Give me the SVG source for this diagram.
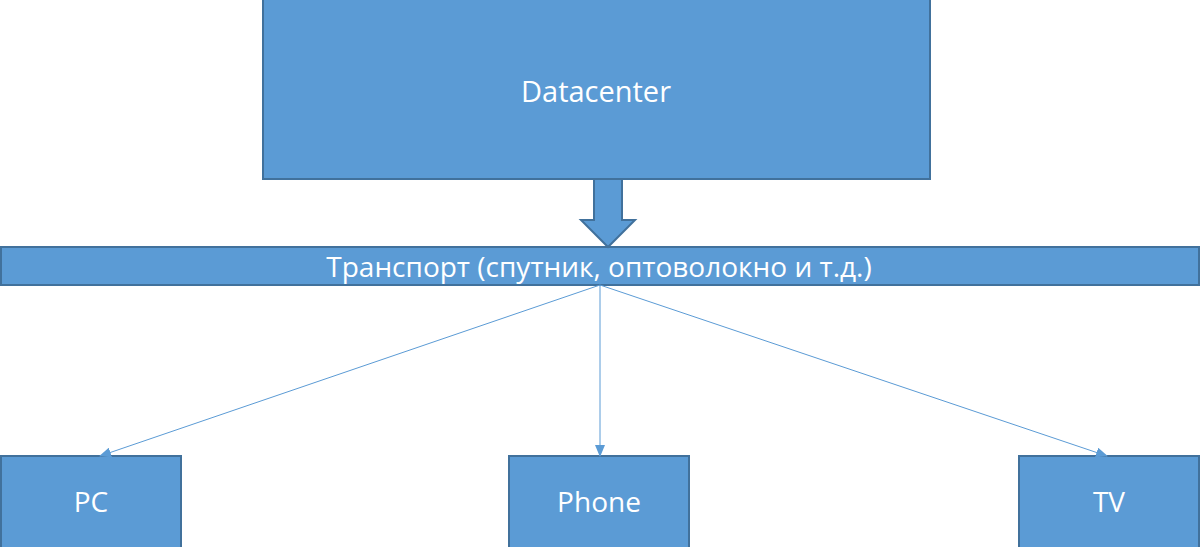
<svg xmlns="http://www.w3.org/2000/svg" width="1200" height="547" viewBox="0 0 1200 547">
<defs>
<style>
.box{fill:#5b9bd5;stroke:#41719c;stroke-width:2}
.lbl{fill:#ffffff;font-family:"Open Sans","Liberation Sans",sans-serif;font-size:28px;text-anchor:middle;dominant-baseline:central}
.conn{stroke:#5b9bd5;stroke-width:1;fill:none}
</style>
<marker id="ah" markerWidth="12" markerHeight="10" refX="11" refY="5" orient="auto" markerUnits="userSpaceOnUse">
<path d="M0,0 L12,5 L0,10 Z" fill="#5b9bd5"/>
</marker>
</defs>
<g id="datacenter">
<rect class="box" x="263" y="-1" width="667" height="180"/>
<text class="lbl" x="596" y="90" style="font-size:29px">Datacenter</text>
</g>
<g id="transport">
<rect class="box" x="1" y="247" width="1198" height="38"/>
<text class="lbl" x="599" y="266">Транспорт (спутник, оптоволокно и т.д.)</text>
</g>
<g id="pc">
<rect class="box" x="1" y="456" width="180" height="92"/>
<text class="lbl" x="91" y="501">PC</text>
</g>
<g id="phone">
<rect class="box" x="509" y="456" width="180" height="92"/>
<text class="lbl" x="599" y="501">Phone</text>
</g>
<g id="tv">
<rect class="box" x="1019" y="456" width="180" height="92"/>
<text class="lbl" x="1109" y="501">TV</text>
</g>
<g id="connectors">
<path d="M594,179 L622,179 L622,220 L635,220 L608,247 L581,220 L594,220 Z" fill="#5b9bd5" stroke="#41719c" stroke-width="2"/>
<line class="conn" x1="600" y1="285" x2="100" y2="456" marker-end="url(#ah)"/>
<line class="conn" x1="600" y1="285" x2="600" y2="456" marker-end="url(#ah)"/>
<line class="conn" x1="600" y1="285" x2="1107" y2="456" marker-end="url(#ah)"/>
</g>
</svg>
